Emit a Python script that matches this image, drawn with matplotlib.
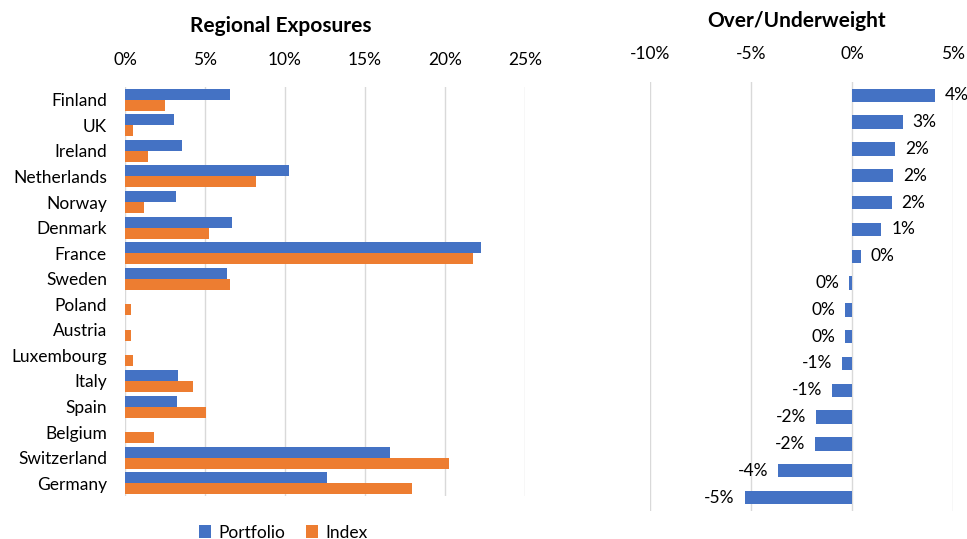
import matplotlib.pyplot as plt
import numpy as np
from matplotlib.ticker import FuncFormatter

plt.rcParams['font.family'] = ['Lato', 'DejaVu Sans']

countries = ['Finland', 'UK', 'Ireland', 'Netherlands', 'Norway', 'Denmark',
             'France', 'Sweden', 'Poland', 'Austria', 'Luxembourg', 'Italy',
             'Spain', 'Belgium', 'Switzerland', 'Germany']
portfolio = [6.57, 3.04, 3.58, 10.24, 3.17, 6.68, 22.22, 6.40,
             0.0, 0.0, 0.0, 3.28, 3.25, 0.0, 16.57, 12.63]
index = [2.48, 0.52, 1.44, 8.19, 1.21, 5.22, 21.77, 6.55,
         0.35, 0.35, 0.51, 4.27, 5.04, 1.84, 20.22, 17.95]

BLUE = '#4472C4'
ORANGE = '#ED7D31'
GRID = '#D9D9D9'
FS = 12.5

portfolio = np.array(portfolio)
index = np.array(index)
active = portfolio - index
y = np.arange(len(countries))

fig = plt.figure(figsize=(9.67, 5.39), dpi=100)

# left panel: portfolio vs index weights
ax1 = fig.add_axes([0.1293, 0.0798, 0.4136, 0.7588])
h = 0.43
ax1.barh(y - h / 2, portfolio, height=h, color=BLUE, label='Portfolio')
ax1.barh(y + h / 2, index, height=h, color=ORANGE, label='Index')
ax1.set_xlim(0, 25)
ax1.set_ylim(len(countries) - 0.5, -0.5)
ax1.set_xticks(np.arange(0, 26, 5))
ax1.xaxis.set_major_formatter(FuncFormatter(lambda v, p: f'{v:.0f}%'))
ax1.xaxis.tick_top()
ax1.set_yticks(y)
ax1.set_yticklabels(countries)
ax1.tick_params(axis='both', length=0, labelsize=FS, colors='#000000')
ax1.tick_params(axis='x', pad=14)
ax1.tick_params(axis='y', pad=13)
ax1.grid(axis='x', color=GRID, linewidth=1)
ax1.set_axisbelow(True)
for s in ax1.spines.values():
    s.set_visible(False)
fig.text(0.29, 0.951, 'Regional Exposures', ha='center', va='center',
         fontsize=15, fontweight='bold')
fig.legend(loc='center', bbox_to_anchor=(0.293, 0.012), ncol=2,
           frameon=False, fontsize=FS, handlelength=0.7, handleheight=0.7,
           columnspacing=1.2, handletextpad=0.4, borderpad=0)

# right panel: over/underweight
ax2 = fig.add_axes([0.6722, 0.052, 0.3133, 0.796])
ax2.barh(y, active, height=0.5, color=BLUE)
ax2.set_xlim(-10, 5)
ax2.set_ylim(len(countries) - 0.5, -0.5)
ax2.set_xticks([-10, -5, 0, 5])
ax2.xaxis.set_major_formatter(FuncFormatter(lambda v, p: f'{v:.0f}%'))
ax2.xaxis.tick_top()
ax2.set_yticks([])
ax2.tick_params(axis='both', length=0, labelsize=FS, colors='#000000')
ax2.tick_params(axis='x', pad=14)
ax2.grid(axis='x', color=GRID, linewidth=1)
ax2.set_axisbelow(True)
for s in ax2.spines.values():
    s.set_visible(False)


def pct_label(v):
    r = int(np.sign(v) * np.floor(abs(v) + 0.5))
    return f'{r}%'


for yi, v in zip(y, active):
    if v >= 0:
        ax2.annotate(pct_label(v), (v, yi), xytext=(7, 0), textcoords='offset points',
                     ha='left', va='center', fontsize=FS, annotation_clip=False)
    else:
        ax2.annotate(pct_label(v), (v, yi), xytext=(-7, 0), textcoords='offset points',
                     ha='right', va='center', fontsize=FS, annotation_clip=False)

fig.text(0.824, 0.961, 'Over/Underweight', ha='center', va='center',
         fontsize=15, fontweight='bold')

fig.savefig('out.png', dpi=100)
